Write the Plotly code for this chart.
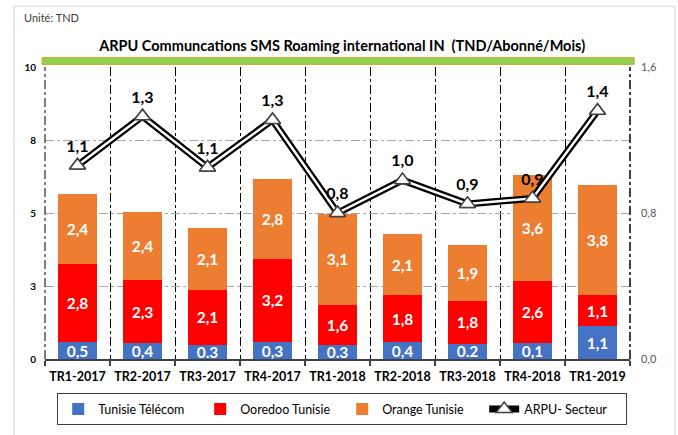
import plotly.graph_objects as go

categories = ["TR1-2017", "TR2-2017", "TR3-2017", "TR4-2017", "TR1-2018",
              "TR2-2018", "TR3-2018", "TR4-2018", "TR1-2019"]

# bar segment heights (left axis, TND)
tunisie_telecom = [0.58, 0.54, 0.49, 0.58, 0.49, 0.58, 0.52, 0.54, 1.12]
ooredoo = [2.68, 2.15, 1.89, 2.85, 1.37, 1.60, 1.48, 2.12, 1.08]
orange = [2.40, 2.34, 2.10, 2.75, 3.12, 2.09, 1.92, 3.63, 3.77]

# data labels as printed on the chart
tt_labels = ["0,5", "0,4", "0.3", "0,3", "0.3", "0,4", "0.2", "0,1", "1,1"]
oo_labels = ["2,8", "2,3", "2,1", "3,2", "1,6", "1,8", "1,8", "2,6", "1,1"]
or_labels = ["2,4", "2,4", "2,1", "2,8", "3,1", "2,1", "1,9", "3,6", "3,8"]

# ARPU secteur (right axis)
arpu = [1.06, 1.33, 1.05, 1.31, 0.80, 0.98, 0.85, 0.88, 1.36]
arpu_labels = ["1,1", "1,3", "1,1", "1,3", "0,8", "1,0", "0,9", "0,9", "1,4"]

left_ticks = [0, 2.5, 5, 7.5, 10]
left_ticktext = ["0", "3", "5", "8", "10"]
right_ticks = [0, 0.8, 1.6]
right_ticktext = ["0,0", "0,8", "1,6"]

FONT = "Lato"

fig = go.Figure()

for name, vals, labels, color in [
    ("Tunisie Télécom", tunisie_telecom, tt_labels, "#4472C4"),
    ("Ooredoo Tunisie", ooredoo, oo_labels, "#FF0000"),
    ("Orange Tunisie", orange, or_labels, "#ED7D31"),
]:
    fig.add_trace(go.Bar(
        x=categories, y=vals, name=name, text=labels,
        textposition="inside", insidetextanchor="middle", textangle=0,
        textfont=dict(family=FONT, size=15.5, color="white", weight="bold"),
        marker=dict(color=color, line=dict(width=0)),
        hoverinfo="skip",
    ))

# double line: black thick below, white thin on top
fig.add_trace(go.Scatter(
    x=categories, y=arpu, yaxis="y2", name="ARPU- Secteur",
    mode="lines+markers",
    line=dict(color="black", width=7),
    marker=dict(symbol="triangle-up", size=14, color="white",
                line=dict(color="#404040", width=1.5)),
    hoverinfo="skip",
))
fig.add_trace(go.Scatter(
    x=categories, y=arpu, yaxis="y2", showlegend=False,
    mode="lines", line=dict(color="white", width=2.5),
    hoverinfo="skip",
))
fig.add_trace(go.Scatter(
    x=categories, y=arpu, yaxis="y2", showlegend=False,
    mode="markers+text", text=arpu_labels, textposition="top center",
    textfont=dict(family=FONT, size=16, color="black", weight="bold"),
    marker=dict(symbol="triangle-up", size=14, color="white",
                line=dict(color="#404040", width=1.5)),
    hoverinfo="skip",
))

fig.update_layout(
    width=678, height=435,
    margin=dict(l=45, r=48, t=67, b=76, autoexpand=False),
    paper_bgcolor="white", plot_bgcolor="white",
    barmode="stack", bargap=0.41,
    uniformtext=dict(minsize=14, mode="show"),
    font=dict(family=FONT, size=12, color="black"),
    title=dict(text="ARPU Communcations SMS Roaming international IN \u00a0(TND/Abonné/Mois)",
               x=0.508, xref="paper", xanchor="center", y=0.895, yref="container",
               yanchor="middle",
               font=dict(family=FONT, size=14.5, color="black", weight="bold")),
    xaxis=dict(
        type="category", tickson="boundaries", automargin=False, tickangle=0,
        showgrid=True, gridcolor="black", griddash="dashdot", gridwidth=1,
        ticks="outside", ticklen=5, tickcolor="#404040", tickwidth=1.5,
        showline=True, linecolor="#404040", linewidth=2, ticklabelstandoff=5,
        tickfont=dict(family=FONT, size=12.5, color="black", weight="bold"),
        range=[-0.5, 8.5],
    ),
    yaxis=dict(
        range=[0, 10], tickvals=left_ticks, ticktext=left_ticktext, automargin=False,
        showgrid=True, gridcolor="#A6A6A6", griddash="dashdot", gridwidth=1,
        zeroline=False, showline=False, ticks="", ticklabelstandoff=8,
        tickfont=dict(family=FONT, size=10, color="black", weight="bold"),
    ),
    yaxis2=dict(
        range=[0, 1.6], tickvals=right_ticks, ticktext=right_ticktext, automargin=False,
        overlaying="y", side="right", showgrid=False, zeroline=False,
        showline=False, ticks="", ticklabelstandoff=10,
        tickfont=dict(family=FONT, size=11, color="#595959"),
    ),
    legend=dict(
        orientation="h", x=0.508, xanchor="center", y=-0.118, yanchor="top",
        bordercolor="#404040", borderwidth=1,
        font=dict(family=FONT, size=12.5, color="black"),
        entrywidth=97, traceorder="normal",
    ),
    shapes=[
        dict(type="rect", xref="paper", yref="paper",
             x0=-0.005, x1=1.007, y0=1.009, y1=1.032,
             fillcolor="#92D050", line=dict(color="#C9A227", width=1), layer="above"),
        dict(type="rect", xref="paper", yref="paper",
             x0=-0.053, x1=1.077, y0=-0.3, y1=1.208,
             fillcolor="rgba(0,0,0,0)", line=dict(color="#D9D9D9", width=1)),
        dict(type="line", xref="paper", yref="paper", x0=0, x1=0, y0=0, y1=1,
             line=dict(color="black", width=1, dash="dashdot")),
        dict(type="line", xref="paper", yref="paper", x0=1, x1=1, y0=0, y1=1,
             line=dict(color="black", width=1.5, dash="dashdot")),
    ],
    annotations=[
        dict(text="Unité: TND", xref="paper", yref="paper", x=-0.04, y=1.168,
             xanchor="left", yanchor="middle", showarrow=False,
             font=dict(family=FONT, size=11, color="#404040")),
    ],
)

fig.write_html("out.html", config={"displayModeBar": False},
               post_script="document.body.style.margin='0';document.body.style.padding='0';")
